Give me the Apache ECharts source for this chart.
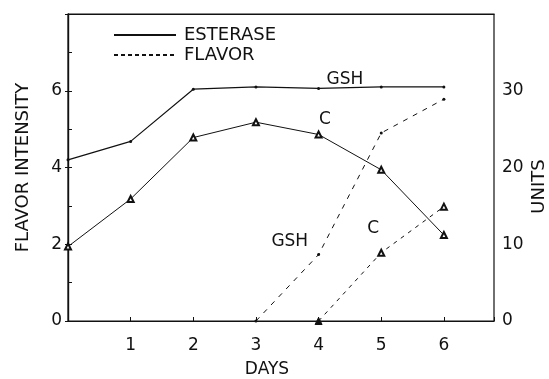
<!DOCTYPE html>
<html>
<head>
<meta charset="utf-8">
<script src="https://cdn.jsdelivr.net/npm/echarts@6/dist/echarts.min.js"></script>
<style>html,body{margin:0;padding:0;background:#fff;}#c{width:549px;height:379px;}</style>
</head>
<body>
<div id="c"></div>
<script>
// ---- data ----
const days = [0, 1, 2, 3, 4, 5, 6];
const esteraseGSH = [21.0, 23.4, 30.2, 30.5, 30.3, 30.5, 30.5];   // units (right axis)
const esteraseC   = [9.7, 15.9, 23.9, 25.9, 24.3, 19.7, 11.2];    // units (right axis)
const flavorGSHDays = [3, 4, 5, 6];
const flavorGSH     = [0, 1.73, 4.9, 5.78];                       // flavor intensity (left axis)
const flavorCDays   = [4, 5, 6];
const flavorC       = [0, 1.78, 2.98];                            // flavor intensity (left axis)
const leftTickLabels  = [0, 2, 4, 6];
const rightTickLabels = [0, 10, 20, 30];
const dayTickLabels   = [1, 2, 3, 4, 5, 6];
const annotations = [
  { text: 'GSH', day: 4.42, value: 31.5, axis: 'units' },
  { text: 'C',   day: 4.1,  value: 26.2, axis: 'units' },
  { text: 'GSH', day: 3.54, value: 2.08, axis: 'flavor' },
  { text: 'C',   day: 4.87, value: 2.42, axis: 'flavor' }
];

const FONT = 'DejaVu Sans';
const INK = '#111';
const pair = (xs, ys) => xs.map((x, i) => [x, ys[i]]);

const chart = echarts.init(document.getElementById('c'), null, { renderer: 'canvas' });

const markFor = (axis) => ({
  symbol: 'circle',
  symbolSize: 2,
  silent: true,
  itemStyle: { color: 'rgba(0,0,0,0)' },
  label: { show: true, position: 'inside', color: INK, fontFamily: FONT, fontSize: 17, formatter: p => p.name },
  data: annotations.filter(a => a.axis === axis).map(a => ({ name: a.text, coord: [a.day, a.value] }))
});

chart.setOption({
  animation: false,
  backgroundColor: '#fff',
  grid: { left: 68, right: 55, top: 14, bottom: 58, outerBoundsMode: 'none', containLabel: false,
          show: true, borderColor: INK, borderWidth: 1.2, backgroundColor: 'transparent' },
  legend: {
    orient: 'vertical', left: 108, top: 21, itemWidth: 62, itemHeight: 10, itemGap: 2,
    data: ['ESTERASE', 'FLAVOR'],
    itemStyle: { opacity: 0 },
    textStyle: { color: INK, fontFamily: FONT, fontSize: 18, padding: [0, 0, 0, 3] }
  },
  xAxis: [
    {
      type: 'value', min: 0, max: 6.8, interval: 1, position: 'bottom',
      name: 'DAYS', nameLocation: 'middle', nameGap: 40,
      nameTextStyle: { color: INK, fontFamily: FONT, fontSize: 17, padding: [0, 28, 0, 0] },
      axisLine: { lineStyle: { color: INK, width: 1.2 } },
      axisTick: { inside: true, length: 4, lineStyle: { color: INK } },
      axisLabel: { color: INK, fontFamily: FONT, fontSize: 17, margin: 16,
        formatter: v => dayTickLabels.includes(v) ? String(v) : '' },
      splitLine: { show: false }
    },
    {
      type: 'value', min: 0, max: 6.8, position: 'top',
      axisLine: { show: true, onZero: false, lineStyle: { color: INK, width: 1.2 } },
      axisTick: { show: false }, axisLabel: { show: false }, splitLine: { show: false }
    }
  ],
  yAxis: [
    {
      type: 'value', min: 0, max: 8, interval: 1, position: 'left',
      name: 'FLAVOR INTENSITY', nameLocation: 'middle', nameGap: 36, nameRotate: 90,
      nameTextStyle: { color: INK, fontFamily: FONT, fontSize: 18 },
      axisLine: { show: true, lineStyle: { color: INK, width: 1.2 } },
      axisTick: { show: true, inside: true, length: 4, lineStyle: { color: INK } },
      axisLabel: { color: INK, fontFamily: FONT, fontSize: 17, margin: 6,
        formatter: v => leftTickLabels.includes(v) ? String(v) : '' },
      splitLine: { show: false }
    },
    {
      type: 'value', min: 0, max: 40, interval: 10, position: 'right',
      name: 'UNITS', nameLocation: 'middle', nameGap: 36, nameRotate: 90, nameMoveOverlap: false,
      nameTextStyle: { color: INK, fontFamily: FONT, fontSize: 18, padding: [0, 38, 0, 0] },
      axisLine: { show: true, lineStyle: { color: INK, width: 1.2 } },
      axisTick: { show: true, inside: true, length: 3, lineStyle: { color: INK } },
      axisLabel: { color: INK, fontFamily: FONT, fontSize: 17, margin: 8,
        formatter: v => rightTickLabels.includes(v) ? String(v) : '' },
      splitLine: { show: false }
    }
  ],
  series: [
    { name: 'ESTERASE', type: 'line', data: [], symbol: 'none', lineStyle: { color: INK, width: 1.3, type: 'solid' }, itemStyle: { color: INK } },
    { name: 'FLAVOR', type: 'line', data: [], symbol: 'none', lineStyle: { color: INK, width: 1.3, type: [4, 3] }, itemStyle: { color: INK } },
    {
      name: 'Esterase GSH', type: 'line', yAxisIndex: 1, data: pair(days, esteraseGSH),
      symbol: 'circle', symbolSize: 3, itemStyle: { color: INK },
      lineStyle: { color: INK, width: 1.2 },
      markPoint: markFor('units')
    },
    {
      name: 'Esterase C', type: 'line', yAxisIndex: 1, data: pair(days, esteraseC),
      symbol: 'emptyTriangle', symbolSize: 6, itemStyle: { color: INK, borderColor: INK, borderWidth: 1 },
      lineStyle: { color: INK, width: 1 }
    },
    {
      name: 'Flavor GSH', type: 'line', yAxisIndex: 0, data: pair(flavorGSHDays, flavorGSH),
      symbol: 'circle', symbolSize: 3, itemStyle: { color: INK },
      lineStyle: { color: INK, width: 1, type: [5, 6] },
      markPoint: markFor('flavor')
    },
    {
      name: 'Flavor C', type: 'line', yAxisIndex: 0,
      data: pair(flavorCDays, flavorC).map((p, i) => i === 0
        ? { value: p, symbol: 'triangle', symbolSize: 7, itemStyle: { color: INK } }
        : { value: p }),
      symbol: 'emptyTriangle', symbolSize: 6, itemStyle: { color: INK, borderColor: INK, borderWidth: 1 },
      lineStyle: { color: INK, width: 1, type: [4, 5] }
    }
  ]
});
</script>
</body>
</html>
